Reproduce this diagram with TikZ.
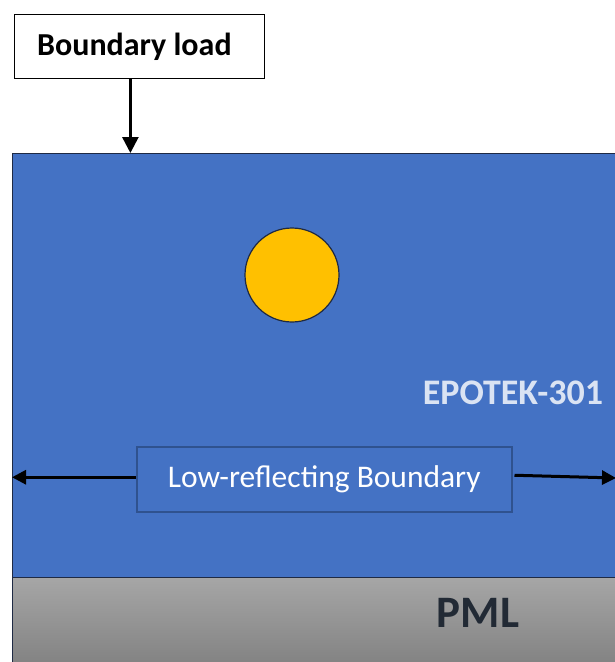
\documentclass[tikz,border=0pt]{standalone}
\usepackage{fontspec}
\setmainfont{Carlito}
\usetikzlibrary{arrows.meta}
\definecolor{epoblue}{HTML}{4472C4}
\definecolor{edgeblue}{HTML}{2F528F}
\definecolor{darkline}{HTML}{1F2A44}
\definecolor{gold}{HTML}{FFC000}
\definecolor{pmltext}{HTML}{222A35}
\definecolor{lighttext}{HTML}{DAE3F3}
\definecolor{greytop}{HTML}{A6A6A6}
\definecolor{greybot}{HTML}{7F7F7F}
\tikzset{
  labelbox/.style={draw=black, line width=0.8pt, fill=white, inner sep=0pt, anchor=north west,
    font=\fontsize{32}{36}\selectfont\bfseries},
  lowbox/.style={draw=edgeblue, line width=1.5pt, fill=epoblue, inner sep=0pt, anchor=north west,
    text=white, font=\fontsize{31.5}{36}\selectfont},
  region/.style={draw=darkline, line width=1.2pt, inner sep=0pt, anchor=north west},
  bigarrow/.style={-{Triangle[length=16pt,width=16pt]}, line width=2.6pt, black},
  sidearrow/.style={-{Triangle[length=14pt,width=14pt]}, line width=3pt, black}
}
\begin{document}
\begin{tikzpicture}[x=1pt,y=-1pt]
\useasboundingbox (0,0) rectangle (614,662);
\fill[white] (0,0) rectangle (614,662);
% PML layer
\node[region, top color=greytop, bottom color=greybot, minimum width=612pt, minimum height=95pt] (pml) at (12,577) {};
% EPOTEK region
\node[region, fill=epoblue, minimum width=612pt, minimum height=424pt] (epo) at (12,153) {};
% boundary load
\node[labelbox, minimum width=250pt, minimum height=64pt] (load) at (14,14) {\hspace*{-10pt}Boundary load};
\draw[bigarrow] ([xshift=-9pt]load.south) -- ([xshift=-9pt]load.south |- epo.north);
% particle
\node[circle, draw=darkline, line width=1.2pt, fill=gold, minimum size=94pt, inner sep=0pt] (ball) at (292,275) {};
% labels
\node[text=lighttext, font=\fontsize{36}{40}\selectfont\bfseries] (epolabel) at (513,393) {EPOTEK-301};
\node[text=pmltext, font=\fontsize{45}{50}\selectfont\bfseries] (pmllabel) at (478,613) {PML};
% low reflecting boundary
\node[lowbox, minimum width=375pt, minimum height=65pt] (low) at (136,446) {Low-reflecting Boundary};
\coordinate (rightend) at (616,478);
\draw[sidearrow] ([yshift=2pt]low.west) -- ([yshift=2pt]low.west -| epo.west);
\draw[sidearrow] ([xshift=2pt,yshift=4pt]low.east) -- (rightend);
\end{tikzpicture}
\end{document}
